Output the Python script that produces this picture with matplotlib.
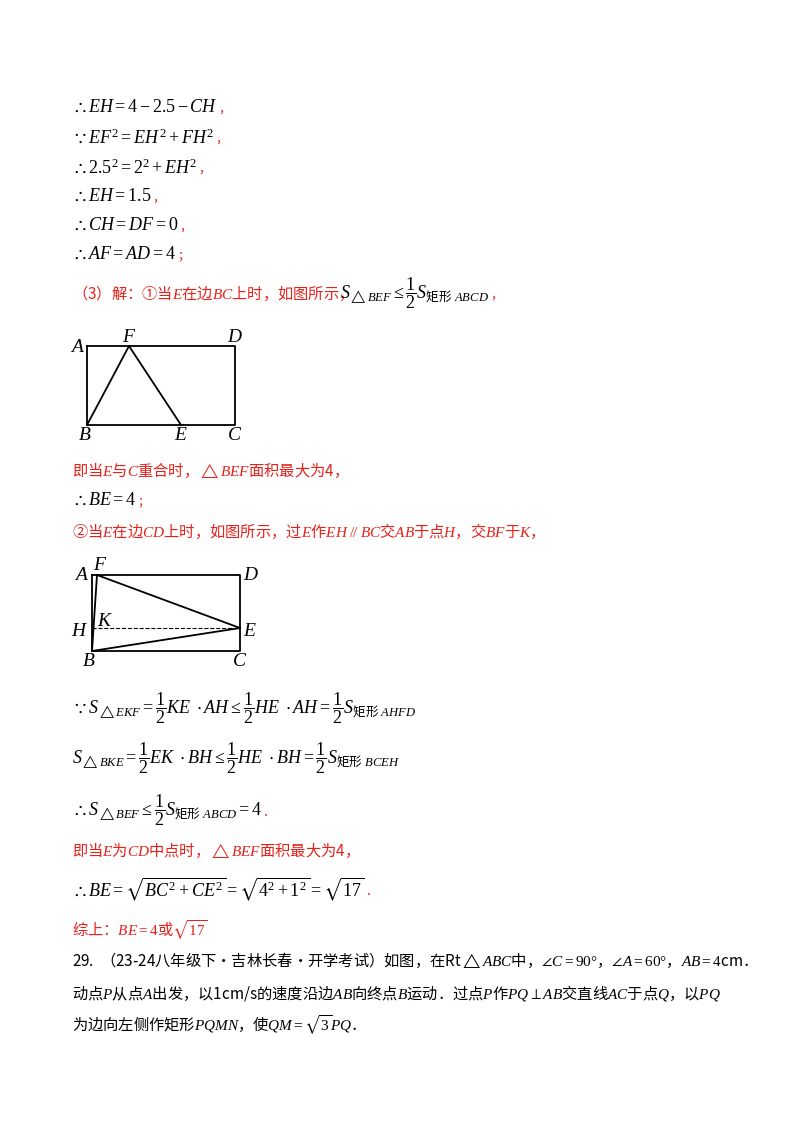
import matplotlib
matplotlib.use("Agg")
import matplotlib.pyplot as plt

plt.rcParams['font.family'] = ['Noto Sans CJK SC', 'DejaVu Sans']
plt.rcParams['mathtext.fontset'] = 'custom'
plt.rcParams['mathtext.rm'] = 'Liberation Serif'
plt.rcParams['mathtext.it'] = 'Liberation Serif:italic'
plt.rcParams['mathtext.bf'] = 'Liberation Serif:bold'
plt.rcParams['mathtext.sf'] = 'Noto Sans CJK SC'
plt.rcParams['mathtext.fallback'] = 'stix'

RED = '#e8201a'
# text lines: (x, y, text, color, size)
lines = [
    (72, 107, r"$\therefore EH=4-2.5-CH$", 'k', 13),
    (72, 137, r"$\because EF^2=EH^2+FH^2$", 'k', 13),
    (72, 167, r"$\therefore 2.5^2=2^2+EH^2$", 'k', 13),
    (72, 196, r"$\therefore EH=1.5$", 'k', 13),
    (72, 225, r"$\therefore CH=DF=0$", 'k', 13),
    (72, 254, r"$\therefore AF=AD=4$", 'k', 13),
    (72, 293, r"（3）解：①当$E$在边$BC$上时，如图所示，", RED, 11),
    (340, 293, r"$S_{\triangle BEF}\leq\dfrac{1}{2}S_{\mathsf{矩形}\ ABCD}$", 'k', 13),
    (72, 470, r"即当$E$与$C$重合时，$\triangle BEF$面积最大为4，", RED, 11),
    (72, 500, r"$\therefore BE=4$", 'k', 13),
    (72, 531, r"②当$E$在边$CD$上时，如图所示，过$E$作$EH\ /\!/\ BC$交$AB$于点$H$，交$BF$于$K$，", RED, 11),
    (72, 708, r"$\because S_{\triangle EKF}=\dfrac{1}{2}KE\ \cdot AH\leq\dfrac{1}{2}HE\ \cdot AH=\dfrac{1}{2}S_{\mathsf{矩形}\ AHFD}$", 'k', 13),
    (72, 758, r"$S_{\triangle BKE}=\dfrac{1}{2}EK\ \cdot BH\leq\dfrac{1}{2}HE\ \cdot BH=\dfrac{1}{2}S_{\mathsf{矩形}\ BCEH}$", 'k', 13),
    (72, 810, r"$\therefore S_{\triangle BEF}\leq\dfrac{1}{2}S_{\mathsf{矩形}\ ABCD}=4$", 'k', 13),
    (72, 851, r"即当$E$为$CD$中点时，$\triangle BEF$面积最大为4，", RED, 11),
    (72, 889, r"$\therefore BE=\sqrt{BC^2+CE^2}=\sqrt{4^2+1^2}=\sqrt{17}$", 'k', 13),
    (72, 930, r"综上：$BE=4$或$\sqrt{17}$", RED, 11),
    (72, 960, r"29.  （23-24八年级下·吉林长春·开学考试）如图，在Rt$\triangle ABC$中，$\angle C=90°$，$\angle A=60°$，$AB=4$cm．", 'k', 11),
    (72, 993, r"动点$P$从点$A$出发，以1cm/s的速度沿边$AB$向终点$B$运动．过点$P$作$PQ\perp AB$交直线$AC$于点$Q$，以$PQ$", 'k', 11),
    (72, 1025, r"为边向左侧作矩形$PQMN$，使$QM=\sqrt{3}PQ$．", 'k', 11),
]
punct = {107: '，', 137: '，', 167: '，', 196: '，', 225: '，', 254: '；', 293: '，', 500: '；', 810: '．', 889: '．'}

# diagram 1 vertices (pixel coords)
d1_names = ['A', 'D', 'C', 'B', 'F', 'E']
d1_x = [87, 235, 235, 87, 129, 181]
d1_y = [346, 346, 425, 425, 346, 425]
# diagram 2
d2_names = ['A', 'D', 'C', 'B', 'F', 'E', 'H', 'K']
d2_x = [92, 240, 240, 92, 97, 240, 92, 96]
d2_y = [575, 575, 651, 651, 575, 628, 628, 628]

fig = plt.figure(figsize=(8, 11.32), dpi=100)
ax = fig.add_axes([0, 0, 1, 1])
ax.set_xlim(0, 800); ax.set_ylim(1132, 0); ax.axis('off')

txts = []
for x, y, t, c, s in lines:
    txts.append(ax.text(x, y, t, color=c, fontsize=s, va='center', ha='left'))

P1 = dict(zip(d1_names, zip(d1_x, d1_y)))
rect = ['A', 'D', 'C', 'B', 'A']
ax.plot([P1[n][0] for n in rect], [P1[n][1] for n in rect], 'k', lw=1.3)
tri = ['B', 'F', 'E']
ax.plot([P1[n][0] for n in tri], [P1[n][1] for n in tri], 'k', lw=1.3)
off1 = {'A': (-9, 0), 'D': (0, -9), 'C': (0, 10), 'B': (-2, 10), 'F': (0, -9), 'E': (0, 10)}
for n in d1_names:
    ax.text(P1[n][0] + off1[n][0], P1[n][1] + off1[n][1], f"${n}$", fontsize=14, ha='center', va='center')

P2 = dict(zip(d2_names, zip(d2_x, d2_y)))
ax.plot([P2[n][0] for n in rect], [P2[n][1] for n in rect], 'k', lw=1.3)
for seg in [['B', 'F'], ['F', 'E'], ['E', 'B']]:
    ax.plot([P2[n][0] for n in seg], [P2[n][1] for n in seg], 'k', lw=1.3)
ax.plot([P2['H'][0], P2['E'][0]], [P2['H'][1], P2['E'][1]], 'k--', lw=0.8)
off2 = {'A': (-10, 0), 'D': (11, 0), 'C': (0, 10), 'B': (-3, 9), 'F': (3, -10),
        'E': (10, 2), 'H': (-12, 2), 'K': (9, -8)}
for n in d2_names:
    ax.text(P2[n][0] + off2[n][0], P2[n][1] + off2[n][1], f"${n}$", fontsize=14, ha='center', va='center')

fig.canvas.draw()
r = fig.canvas.get_renderer()
inv = ax.transData.inverted()
for i, t in enumerate(txts):
    x, y, s, c, sz = lines[i]
    if y in punct and c == 'k':
        bb = t.get_window_extent(r).transformed(inv)
        ax.text(max(bb.x0, bb.x1) + 1, y + 2, punct[y], color=RED, fontsize=9, va='center')

fig.savefig('out.png', dpi=100)
